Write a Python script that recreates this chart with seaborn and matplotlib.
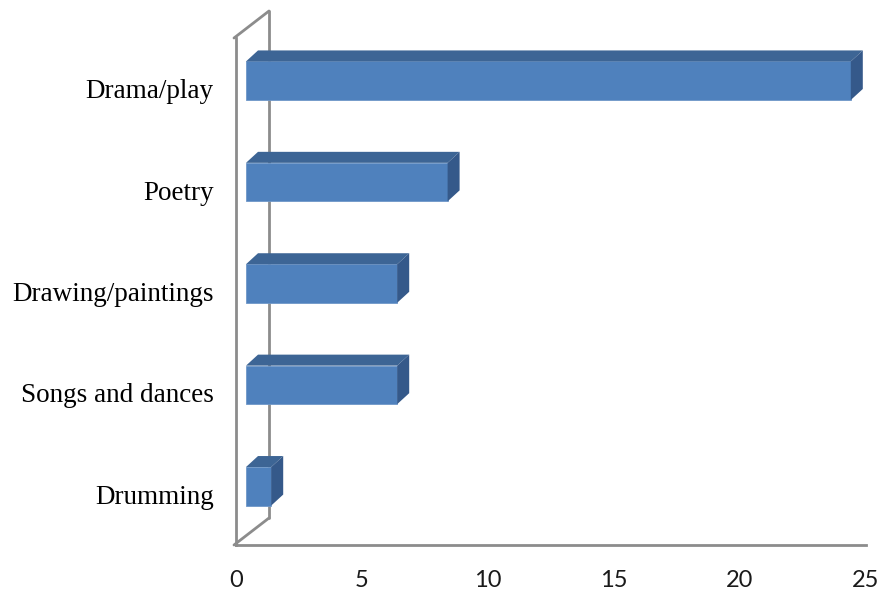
import numpy as np
import pandas as pd
import seaborn as sns
import matplotlib.pyplot as plt
from matplotlib.patches import Polygon
from matplotlib.transforms import ScaledTranslation, IdentityTransform

sns.set_theme(style="white")

# Dados
categorias = ["Drama/play", "Poetry", "Drawing/paintings", "Songs and dances", "Drumming"]
valores = [24, 8, 6, 6, 1]
ticks_x = [0, 5, 10, 15, 20, 25]

df = pd.DataFrame({"categoria": categorias, "valor": valores})

cor_frente = "#4F81BD"
cor_topo = "#3D6595"
cor_lado = "#35598A"
cor_parede = "#8C8C8C"

fig = plt.figure(figsize=(8.82, 5.9), dpi=100)
ax = fig.add_axes([236 / 882, 45 / 590, 630 / 882, 507 / 590])

sns.barplot(data=df, x="valor", y="categoria", orient="h", color=cor_frente,
            width=0.38, saturation=1, ax=ax, zorder=3)

ax.set_xlim(0, 25)
ax.set_ylim(4.5, -0.5)
ax.set_xticks(ticks_x)
ax.set_xlabel("")
ax.set_ylabel("")
ax.tick_params(axis="both", length=0)
ax.tick_params(axis="x", pad=18, labelsize=17, labelcolor="#1a1a1a")
ax.tick_params(axis="y", pad=16, labelsize=19.5, labelcolor="black")
for lab in ax.get_xticklabels():
    lab.set_family(["Lato", "DejaVu Sans"])
for lab in ax.get_yticklabels():
    lab.set_family(["Liberation Serif", "DejaVu Serif"])

for s in ["top", "right"]:
    ax.spines[s].set_visible(False)
for s in ["left", "bottom"]:
    ax.spines[s].set_color(cor_parede)
    ax.spines[s].set_linewidth(2)

# Parede de fundo (3D), em pixels
fig.canvas.draw()
prof_x, prof_y = 35, 27
x0p, y0p = ax.transAxes.transform((0, 0))
x1p, y1p = ax.transAxes.transform((0, 1))
xa_p = x0p - 2
linhas = [
    ([xa_p, xa_p + prof_x], [y0p, y0p + prof_y]),
    ([xa_p, xa_p + prof_x], [y1p, y1p + prof_y]),
    ([xa_p + prof_x, xa_p + prof_x], [y0p + prof_y, y1p + prof_y]),
]
for xs, ys in linhas:
    ax.add_line(plt.Line2D(xs, ys, color=cor_parede, lw=2, zorder=2,
                           transform=IdentityTransform(), clip_on=False))

# Barras em 3D
dx_f, dy_f = 10, 8
dx, dy = 12, 11
for p in list(ax.patches):
    xb, yb = p.get_x(), p.get_y()
    w, h = p.get_width(), p.get_height()
    (xa, ya) = ax.transData.transform((xb, yb + h))
    (xc, yc) = ax.transData.transform((xb + w, yb))
    xa += dx_f; xc += dx_f; ya += dy_f; yc += dy_f
    p.set_transform(ax.transData + ScaledTranslation(dx_f / 100, dy_f / 100,
                                                        fig.dpi_scale_trans))
    p.set_edgecolor("#6F97C8")
    p.set_linewidth(0.6)
    topo = Polygon([(xa, yc), (xc, yc), (xc + dx, yc + dy), (xa + dx, yc + dy)],
                   closed=True, facecolor=cor_topo, edgecolor="none",
                   transform=IdentityTransform(), zorder=4)
    lado = Polygon([(xc, ya), (xc, yc), (xc + dx, yc + dy), (xc + dx, ya + dy)],
                   closed=True, facecolor=cor_lado, edgecolor="none",
                   transform=IdentityTransform(), zorder=4)
    ax.add_patch(topo)
    ax.add_patch(lado)

fig.savefig("out.png", dpi=100)
